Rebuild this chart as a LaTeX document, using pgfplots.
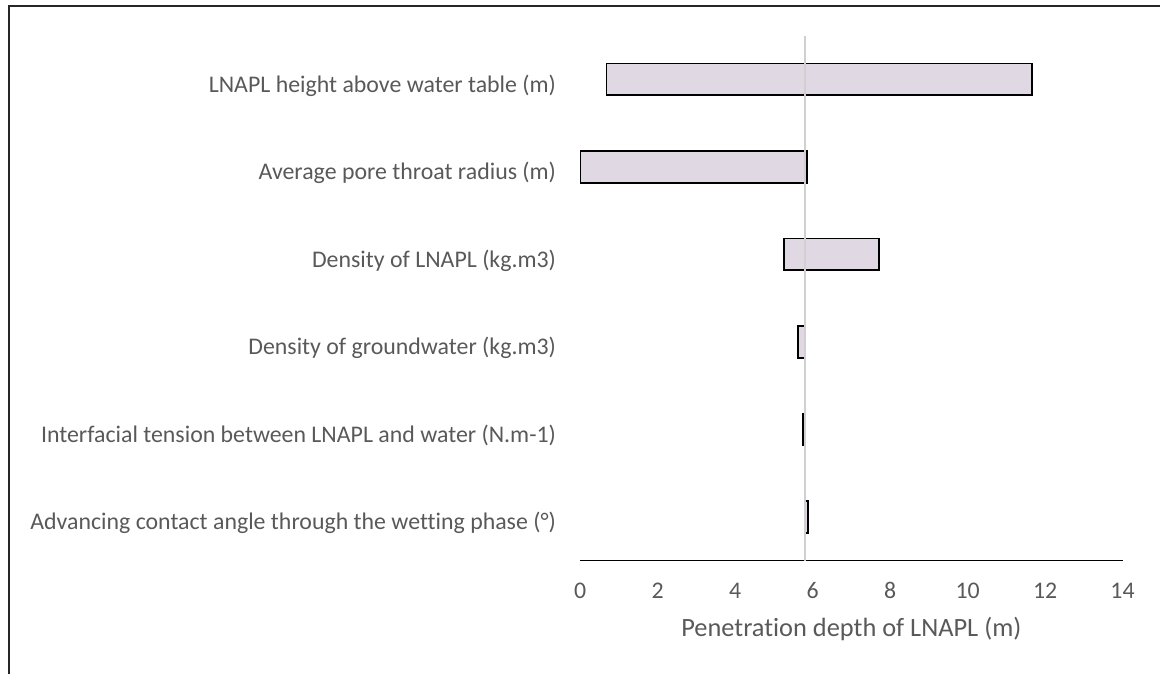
\documentclass[border=0pt]{standalone}
\usepackage{pgfplots}
\pgfplotsset{compat=1.18}
\usepackage{pgfplotstable}
\usepackage{fontspec}
\setmainfont{Carlito}[Ligatures=CommonOff]
\definecolor{txt}{HTML}{595959}
\definecolor{barfill}{HTML}{E0D9E4}
\definecolor{baseln}{HTML}{D0D0D0}
\pgfplotstableread{
y low high
0 0.68 11.67
1 0.00 5.85
2 5.25 7.72
3 5.63 5.81
4 5.74 5.81
5 5.81 5.89
}\data
\begin{document}
\begin{tikzpicture}[x=1pt,y=1pt]
\path (0,0) rectangle (870.75,506.25);
\draw[line width=1.4pt, black!85] (7,0) -- (7,501.5) -- (870.75,501.5);
\begin{axis}[
  at={(435.5pt,85.5pt)}, anchor=south west,
  scale only axis, width=407.1pt, height=394pt,
  xmin=0, xmax=14, ymin=-0.5, ymax=5.5, y dir=reverse,
  xbar stacked, bar width=0.362,
  axis x line*=bottom, axis y line*=left,
  y axis line style={draw=none},
  x axis line style={line width=1.2pt, black},
  major tick length=0pt, tick style={draw=none},
  xtick={0,2,...,14}, ytick={0,...,5},
  yticklabels={LNAPL height above water table (m),
    Average pore throat radius (m),
    Density of LNAPL (kg.m3),
    Density of groundwater (kg.m3),
    Interfacial tension between LNAPL and water (N.m-1),
    Advancing contact angle through the wetting phase (°)},
  /pgf/number format/assume math mode=true,
  tick label style={font=\fontsize{17.9}{20}\selectfont, color=txt},
  xticklabel style={anchor=base, inner sep=0pt, yshift=-28.7pt},
  yticklabel style={anchor=base east, inner sep=0pt, xshift=-18pt, yshift=-9.6pt},
  xlabel={Penetration depth of LNAPL (m)},
  xlabel style={font=\fontsize{19.8}{22}\selectfont, color=txt,
    at={(axis description cs:0.5,0)}, anchor=base, inner sep=0pt, yshift=-57pt},
]
\addplot[draw=none, fill=none] table[x=low, y=y] {\data};
\addplot[fill=barfill, draw=black, line width=1.4pt] table[x expr=\thisrow{high}-\thisrow{low}, y=y] {\data};
\end{axis}
\begin{axis}[
  at={(435.5pt,85.5pt)}, anchor=south west,
  scale only axis, width=407.1pt, height=394pt,
  xmin=0, xmax=14, ymin=-0.5, ymax=5.5, y dir=reverse,
  hide axis,
]
\addplot[baseln, line width=1.5pt, mark=none] coordinates {(5.81,-0.5) (5.81,5.5)};
\end{axis}
\end{tikzpicture}
\end{document}
